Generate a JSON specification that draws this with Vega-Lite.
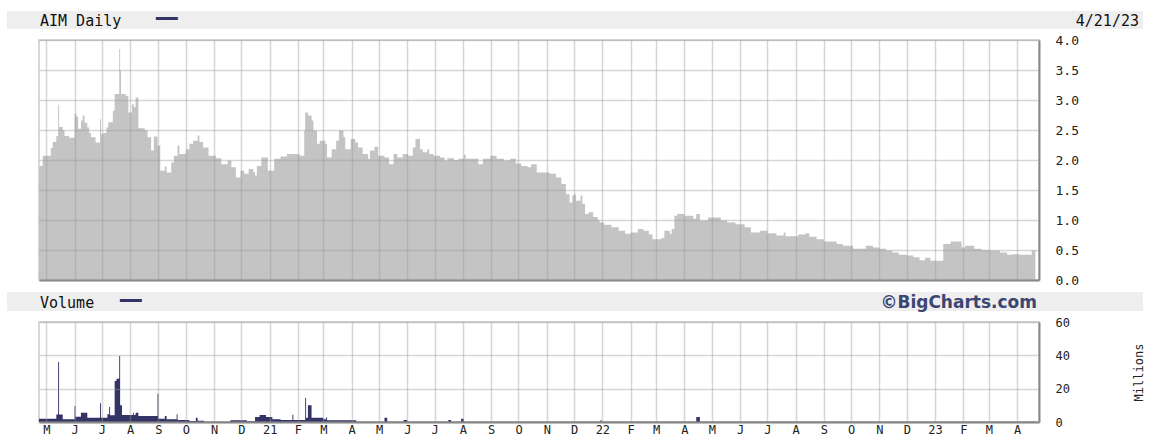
{
  "$schema": "https://vega.github.io/schema/vega-lite/v6.json",
  "padding": {"left": 7, "top": 11, "right": 0, "bottom": 0},
  "background": "white",
  "spacing": 4,
  "config": {
    "view": {"stroke": "#cccccc", "strokeWidth": 1.5},
    "axis": {"labelFont": "DejaVu Sans Mono", "labelFontSize": 13, "labelColor": "#222222", "titleFont": "DejaVu Sans Mono", "titleFontSize": 12, "titleColor": "#222222", "titleFontWeight": "normal"}
  },
  "vconcat": [
    {
      "width": 1136, "height": 18,
      "view": {"fill": "#eeeeee", "stroke": null},
      "layer": [
        {"data": {"values": [{"t": "AIM Daily", "pos": 0}]}, "mark": {"type": "text", "align": "left", "baseline": "middle", "dx": 33, "dy": 1, "font": "DejaVu Sans Mono", "fontSize": 15, "color": "#111111"}, "encoding": {"x": {"field": "pos", "type": "quantitative", "scale": {"domain": [0, 1]}, "axis": null}, "text": {"field": "t"}}},
        {"data": {"values": [{"t": "━━", "pos": 0}]}, "mark": {"type": "text", "align": "left", "baseline": "middle", "dx": 149, "font": "DejaVu Sans Mono", "fontSize": 18, "color": "#333366"}, "encoding": {"x": {"field": "pos", "type": "quantitative", "scale": {"domain": [0, 1]}, "axis": null}, "text": {"field": "t"}}},
        {"data": {"values": [{"t": "4/21/23", "pos": 1}]}, "mark": {"type": "text", "align": "right", "baseline": "middle", "dx": -4, "dy": 1, "font": "DejaVu Sans Mono", "fontSize": 15, "color": "#111111"}, "encoding": {"x": {"field": "pos", "type": "quantitative", "scale": {"domain": [0, 1]}, "axis": null}, "text": {"field": "t"}}}
      ]
    },
    {
      "spacing": 0,
      "hconcat": [
        {"width": 31, "height": 240, "view": {"fill": "#ffffff", "stroke": null}, "data": {"values": [{"k": 0}]}, "mark": {"type": "point", "opacity": 0}, "encoding": {}},
        {
          "width": 1000, "height": 240,
          "data": {"values": [
            {"d": "2020-04-23", "p": 1.90}, {"d": "2020-04-27", "p": 2.07}, {"d": "2020-05-06", "p": 2.20}, {"d": "2020-05-08", "p": 2.30},
            {"d": "2020-05-12", "p": 2.40}, {"d": "2020-05-14", "p": 2.92}, {"d": "2020-05-15", "p": 2.55}, {"d": "2020-05-19", "p": 2.49},
            {"d": "2020-05-21", "p": 2.40}, {"d": "2020-05-26", "p": 2.37}, {"d": "2020-06-01", "p": 2.77}, {"d": "2020-06-03", "p": 2.72},
            {"d": "2020-06-05", "p": 2.52}, {"d": "2020-06-08", "p": 2.66}, {"d": "2020-06-10", "p": 2.74}, {"d": "2020-06-12", "p": 2.62},
            {"d": "2020-06-15", "p": 2.54}, {"d": "2020-06-17", "p": 2.45}, {"d": "2020-06-19", "p": 2.38}, {"d": "2020-06-24", "p": 2.29},
            {"d": "2020-06-29", "p": 2.68}, {"d": "2020-06-30", "p": 2.43}, {"d": "2020-07-02", "p": 2.45}, {"d": "2020-07-06", "p": 2.54},
            {"d": "2020-07-08", "p": 2.63}, {"d": "2020-07-13", "p": 2.82}, {"d": "2020-07-15", "p": 3.10}, {"d": "2020-07-20", "p": 3.85},
            {"d": "2020-07-21", "p": 3.49}, {"d": "2020-07-22", "p": 3.10}, {"d": "2020-07-27", "p": 3.07}, {"d": "2020-07-30", "p": 2.79},
            {"d": "2020-08-03", "p": 2.93}, {"d": "2020-08-05", "p": 2.88}, {"d": "2020-08-07", "p": 3.04}, {"d": "2020-08-10", "p": 2.53},
            {"d": "2020-08-17", "p": 2.49}, {"d": "2020-08-20", "p": 2.38}, {"d": "2020-08-24", "p": 2.16}, {"d": "2020-08-27", "p": 2.39},
            {"d": "2020-08-31", "p": 2.24}, {"d": "2020-09-03", "p": 1.82}, {"d": "2020-09-08", "p": 1.89}, {"d": "2020-09-10", "p": 1.79},
            {"d": "2020-09-15", "p": 1.96}, {"d": "2020-09-18", "p": 2.07}, {"d": "2020-09-22", "p": 2.24}, {"d": "2020-09-24", "p": 2.10},
            {"d": "2020-10-01", "p": 2.18}, {"d": "2020-10-05", "p": 2.27}, {"d": "2020-10-09", "p": 2.32}, {"d": "2020-10-14", "p": 2.41},
            {"d": "2020-10-16", "p": 2.30}, {"d": "2020-10-20", "p": 2.21}, {"d": "2020-10-26", "p": 2.07}, {"d": "2020-11-03", "p": 2.03},
            {"d": "2020-11-09", "p": 1.93}, {"d": "2020-11-16", "p": 1.99}, {"d": "2020-11-20", "p": 1.88}, {"d": "2020-11-25", "p": 1.71},
            {"d": "2020-11-30", "p": 1.82}, {"d": "2020-12-04", "p": 1.77}, {"d": "2020-12-09", "p": 1.85}, {"d": "2020-12-14", "p": 1.80},
            {"d": "2020-12-16", "p": 1.74}, {"d": "2020-12-18", "p": 1.90}, {"d": "2020-12-23", "p": 2.04}, {"d": "2020-12-30", "p": 1.82},
            {"d": "2021-01-06", "p": 2.02}, {"d": "2021-01-13", "p": 2.06}, {"d": "2021-01-20", "p": 2.10}, {"d": "2021-02-03", "p": 2.07},
            {"d": "2021-02-08", "p": 2.49}, {"d": "2021-02-09", "p": 2.79}, {"d": "2021-02-12", "p": 2.74}, {"d": "2021-02-16", "p": 2.66},
            {"d": "2021-02-18", "p": 2.49}, {"d": "2021-02-22", "p": 2.27}, {"d": "2021-02-25", "p": 2.32}, {"d": "2021-03-03", "p": 2.27},
            {"d": "2021-03-05", "p": 2.04}, {"d": "2021-03-10", "p": 2.18}, {"d": "2021-03-15", "p": 2.32}, {"d": "2021-03-18", "p": 2.49},
            {"d": "2021-03-23", "p": 2.38}, {"d": "2021-03-25", "p": 2.18}, {"d": "2021-03-31", "p": 2.35}, {"d": "2021-04-05", "p": 2.29},
            {"d": "2021-04-08", "p": 2.21}, {"d": "2021-04-13", "p": 2.10}, {"d": "2021-04-19", "p": 2.02}, {"d": "2021-04-21", "p": 2.16},
            {"d": "2021-04-26", "p": 2.22}, {"d": "2021-04-30", "p": 2.07}, {"d": "2021-05-07", "p": 2.04}, {"d": "2021-05-12", "p": 1.93},
            {"d": "2021-05-17", "p": 2.10}, {"d": "2021-05-21", "p": 2.04}, {"d": "2021-05-27", "p": 2.10}, {"d": "2021-06-02", "p": 2.07},
            {"d": "2021-06-07", "p": 2.21}, {"d": "2021-06-10", "p": 2.35}, {"d": "2021-06-15", "p": 2.18}, {"d": "2021-06-18", "p": 2.13},
            {"d": "2021-06-23", "p": 2.18}, {"d": "2021-06-25", "p": 2.10}, {"d": "2021-06-30", "p": 2.07}, {"d": "2021-07-07", "p": 2.04},
            {"d": "2021-07-12", "p": 1.99}, {"d": "2021-07-15", "p": 2.03}, {"d": "2021-07-22", "p": 2.00}, {"d": "2021-07-27", "p": 2.02},
            {"d": "2021-08-02", "p": 2.09}, {"d": "2021-08-04", "p": 2.02}, {"d": "2021-08-18", "p": 1.93}, {"d": "2021-08-23", "p": 2.02},
            {"d": "2021-08-31", "p": 2.07}, {"d": "2021-09-07", "p": 2.02}, {"d": "2021-09-15", "p": 1.99}, {"d": "2021-09-22", "p": 2.02},
            {"d": "2021-09-28", "p": 1.94}, {"d": "2021-10-04", "p": 1.90}, {"d": "2021-10-11", "p": 1.88}, {"d": "2021-10-15", "p": 1.93},
            {"d": "2021-10-21", "p": 1.79}, {"d": "2021-11-04", "p": 1.77}, {"d": "2021-11-11", "p": 1.71}, {"d": "2021-11-17", "p": 1.60},
            {"d": "2021-11-22", "p": 1.43}, {"d": "2021-11-26", "p": 1.29}, {"d": "2021-11-29", "p": 1.41}, {"d": "2021-12-01", "p": 1.43},
            {"d": "2021-12-03", "p": 1.32}, {"d": "2021-12-08", "p": 1.41}, {"d": "2021-12-10", "p": 1.27}, {"d": "2021-12-13", "p": 1.10},
            {"d": "2021-12-17", "p": 1.13}, {"d": "2021-12-22", "p": 1.05}, {"d": "2021-12-27", "p": 1.00}, {"d": "2021-12-29", "p": 0.96},
            {"d": "2022-01-03", "p": 0.92}, {"d": "2022-01-11", "p": 0.88}, {"d": "2022-01-19", "p": 0.82}, {"d": "2022-01-26", "p": 0.77},
            {"d": "2022-02-01", "p": 0.79}, {"d": "2022-02-09", "p": 0.85}, {"d": "2022-02-15", "p": 0.82}, {"d": "2022-02-21", "p": 0.76},
            {"d": "2022-02-25", "p": 0.68}, {"d": "2022-03-07", "p": 0.70}, {"d": "2022-03-10", "p": 0.82}, {"d": "2022-03-16", "p": 0.77},
            {"d": "2022-03-18", "p": 0.85}, {"d": "2022-03-21", "p": 1.07}, {"d": "2022-03-24", "p": 1.10}, {"d": "2022-04-01", "p": 1.07},
            {"d": "2022-04-11", "p": 1.02}, {"d": "2022-04-14", "p": 1.10}, {"d": "2022-04-18", "p": 0.99}, {"d": "2022-04-27", "p": 1.04},
            {"d": "2022-05-11", "p": 0.99}, {"d": "2022-05-18", "p": 0.96}, {"d": "2022-05-27", "p": 0.93}, {"d": "2022-06-06", "p": 0.88},
            {"d": "2022-06-13", "p": 0.79}, {"d": "2022-06-23", "p": 0.82}, {"d": "2022-07-01", "p": 0.78}, {"d": "2022-07-11", "p": 0.74},
            {"d": "2022-07-19", "p": 0.79}, {"d": "2022-07-21", "p": 0.73}, {"d": "2022-08-04", "p": 0.76}, {"d": "2022-08-12", "p": 0.78},
            {"d": "2022-08-16", "p": 0.72}, {"d": "2022-08-24", "p": 0.68}, {"d": "2022-09-01", "p": 0.64}, {"d": "2022-09-15", "p": 0.60},
            {"d": "2022-09-22", "p": 0.57}, {"d": "2022-10-03", "p": 0.52}, {"d": "2022-10-17", "p": 0.57}, {"d": "2022-10-25", "p": 0.54},
            {"d": "2022-11-01", "p": 0.52}, {"d": "2022-11-08", "p": 0.49}, {"d": "2022-11-15", "p": 0.46}, {"d": "2022-11-22", "p": 0.42},
            {"d": "2022-12-01", "p": 0.41}, {"d": "2022-12-08", "p": 0.38}, {"d": "2022-12-15", "p": 0.33}, {"d": "2022-12-21", "p": 0.37},
            {"d": "2022-12-27", "p": 0.32}, {"d": "2023-01-10", "p": 0.60}, {"d": "2023-01-18", "p": 0.64}, {"d": "2023-01-30", "p": 0.54},
            {"d": "2023-02-03", "p": 0.57}, {"d": "2023-02-13", "p": 0.52}, {"d": "2023-02-21", "p": 0.50}, {"d": "2023-03-01", "p": 0.49},
            {"d": "2023-03-13", "p": 0.46}, {"d": "2023-03-21", "p": 0.42}, {"d": "2023-03-27", "p": 0.43}, {"d": "2023-04-04", "p": 0.42},
            {"d": "2023-04-17", "p": 0.49}, {"d": "2023-04-21", "p": 0.49}
          ]},
          "mark": {"type": "area", "interpolate": "step-after", "color": "#c4c4c4"},
          "encoding": {
            "x": {"field": "d", "type": "temporal",
              "scale": {"type": "utc", "domain": [{"year": 2020, "month": 4, "date": 23, "utc": true}, {"year": 2023, "month": 4, "date": 25, "utc": true}]},
              "axis": {"title": null, "labels": false, "ticks": true, "tickSize": 6, "tickOpacity": 0, "domainColor": "#888888", "domainWidth": 2, "grid": true, "gridColor": "#999999", "gridOpacity": 0.4, "gridWidth": 1.5, "tickCount": {"interval": "month", "step": 1}, "zindex": 1}},
            "y": {"field": "p", "type": "quantitative", "scale": {"domain": [0, 4]},
              "axis": {"orient": "right", "title": null, "values": [0, 0.5, 1, 1.5, 2, 2.5, 3, 3.5, 4], "format": ".1f", "ticks": false, "labelPadding": 16, "domainColor": "#888888", "domainWidth": 2, "grid": true, "gridColor": "#999999", "gridOpacity": 0.4, "gridWidth": 1.5, "zindex": 1}}
          }
        }
      ]
    },
    {
      "width": 1136, "height": 19,
      "view": {"fill": "#eeeeee", "stroke": null},
      "layer": [
        {"data": {"values": [{"t": "Volume", "pos": 0}]}, "mark": {"type": "text", "align": "left", "baseline": "middle", "dx": 33, "dy": 1, "font": "DejaVu Sans Mono", "fontSize": 15, "color": "#111111"}, "encoding": {"x": {"field": "pos", "type": "quantitative", "scale": {"domain": [0, 1]}, "axis": null}, "text": {"field": "t"}}},
        {"data": {"values": [{"t": "━━", "pos": 0}]}, "mark": {"type": "text", "align": "left", "baseline": "middle", "dx": 113, "font": "DejaVu Sans Mono", "fontSize": 18, "color": "#333366"}, "encoding": {"x": {"field": "pos", "type": "quantitative", "scale": {"domain": [0, 1]}, "axis": null}, "text": {"field": "t"}}},
        {"data": {"values": [{"t": "©BigCharts.com", "pos": 1}]}, "mark": {"type": "text", "align": "right", "baseline": "middle", "dx": -106, "dy": 1, "font": "DejaVu Sans", "fontWeight": "bold", "fontSize": 17, "color": "#3c4672"}, "encoding": {"x": {"field": "pos", "type": "quantitative", "scale": {"domain": [0, 1]}, "axis": null}, "text": {"field": "t"}}}
      ]
    },
    {
      "spacing": 0,
      "hconcat": [
        {"width": 31, "height": 100, "view": {"fill": "#ffffff", "stroke": null}, "data": {"values": [{"k": 0}]}, "mark": {"type": "point", "opacity": 0}, "encoding": {}},
        {
          "width": 1000, "height": 100,
          "data": {"values": [
            {"d": "2020-04-23", "v": 2.0}, {"d": "2020-05-12", "v": 4.5}, {"d": "2020-05-14", "v": 36}, {"d": "2020-05-15", "v": 4.5},
            {"d": "2020-05-19", "v": 1.6}, {"d": "2020-06-01", "v": 9.6}, {"d": "2020-06-02", "v": 3.2}, {"d": "2020-06-08", "v": 5.6},
            {"d": "2020-06-15", "v": 2.6}, {"d": "2020-06-29", "v": 11.2}, {"d": "2020-06-30", "v": 2.6}, {"d": "2020-07-07", "v": 4.6},
            {"d": "2020-07-09", "v": 9}, {"d": "2020-07-10", "v": 4}, {"d": "2020-07-15", "v": 24.6}, {"d": "2020-07-17", "v": 26},
            {"d": "2020-07-20", "v": 39.6}, {"d": "2020-07-21", "v": 10}, {"d": "2020-07-23", "v": 4.2}, {"d": "2020-08-04", "v": 5.6},
            {"d": "2020-08-05", "v": 4.2}, {"d": "2020-08-07", "v": 5.6}, {"d": "2020-08-10", "v": 3.6}, {"d": "2020-08-31", "v": 17},
            {"d": "2020-09-01", "v": 2}, {"d": "2020-09-08", "v": 3.6}, {"d": "2020-09-10", "v": 1.6}, {"d": "2020-09-21", "v": 4.6},
            {"d": "2020-09-22", "v": 1.2}, {"d": "2020-10-05", "v": 0.6}, {"d": "2020-10-12", "v": 2.6}, {"d": "2020-10-14", "v": 0.8},
            {"d": "2020-10-21", "v": 0.2}, {"d": "2020-11-19", "v": 1.0}, {"d": "2020-12-07", "v": 0.5}, {"d": "2020-12-16", "v": 3.0},
            {"d": "2020-12-21", "v": 4.2}, {"d": "2020-12-28", "v": 3.0}, {"d": "2021-01-04", "v": 1.6}, {"d": "2021-01-13", "v": 1.2},
            {"d": "2021-01-26", "v": 4.4}, {"d": "2021-01-27", "v": 1.2}, {"d": "2021-02-09", "v": 14.4}, {"d": "2021-02-10", "v": 2.6},
            {"d": "2021-02-12", "v": 10}, {"d": "2021-02-16", "v": 2.6}, {"d": "2021-03-01", "v": 1.6}, {"d": "2021-03-04", "v": 2.8},
            {"d": "2021-03-05", "v": 1.0}, {"d": "2021-04-06", "v": 0.2}, {"d": "2021-05-07", "v": 2.6}, {"d": "2021-05-10", "v": 0.2},
            {"d": "2021-05-28", "v": 1.2}, {"d": "2021-06-01", "v": 0.2}, {"d": "2021-07-16", "v": 1.2}, {"d": "2021-07-19", "v": 0.2},
            {"d": "2021-07-30", "v": 2.0}, {"d": "2021-08-02", "v": 0.2}, {"d": "2021-12-30", "v": 1.2}, {"d": "2021-12-31", "v": 0.2},
            {"d": "2022-04-14", "v": 3.0}, {"d": "2022-04-18", "v": 0.2}, {"d": "2023-04-21", "v": 0.2}
          ]},
          "mark": {"type": "area", "interpolate": "step-after", "color": "#333366"},
          "encoding": {
            "x": {"field": "d", "type": "temporal",
              "scale": {"type": "utc", "domain": [{"year": 2020, "month": 4, "date": 23, "utc": true}, {"year": 2023, "month": 4, "date": 25, "utc": true}]},
              "axis": {"title": null, "ticks": false, "labelPadding": 2, "labelFontSize": 12, "labelOverlap": false, "labelFlush": false, "labelBound": false,
                "labelExpr": "utcmonth(datum.value) == 0 ? utcFormat(datum.value, '%y') : substring(utcFormat(datum.value, '%b'), 0, 1)",
                "domainColor": "#888888", "domainWidth": 2, "grid": true, "gridColor": "#999999", "gridOpacity": 0.4, "gridWidth": 1.5, "tickCount": {"interval": "month", "step": 1}, "zindex": 1}},
            "y": {"field": "v", "type": "quantitative", "scale": {"domain": [0, 60]},
              "axis": {"orient": "right", "title": "Millions", "titleAngle": 270, "titleBaseline": "top", "titlePadding": 64, "values": [0, 20, 40, 60], "ticks": false, "labelPadding": 16, "labelFontSize": 12, "domainColor": "#888888", "domainWidth": 2, "grid": true, "gridColor": "#999999", "gridOpacity": 0.4, "gridWidth": 1.5, "zindex": 1}}
          }
        }
      ]
    }
  ]
}
